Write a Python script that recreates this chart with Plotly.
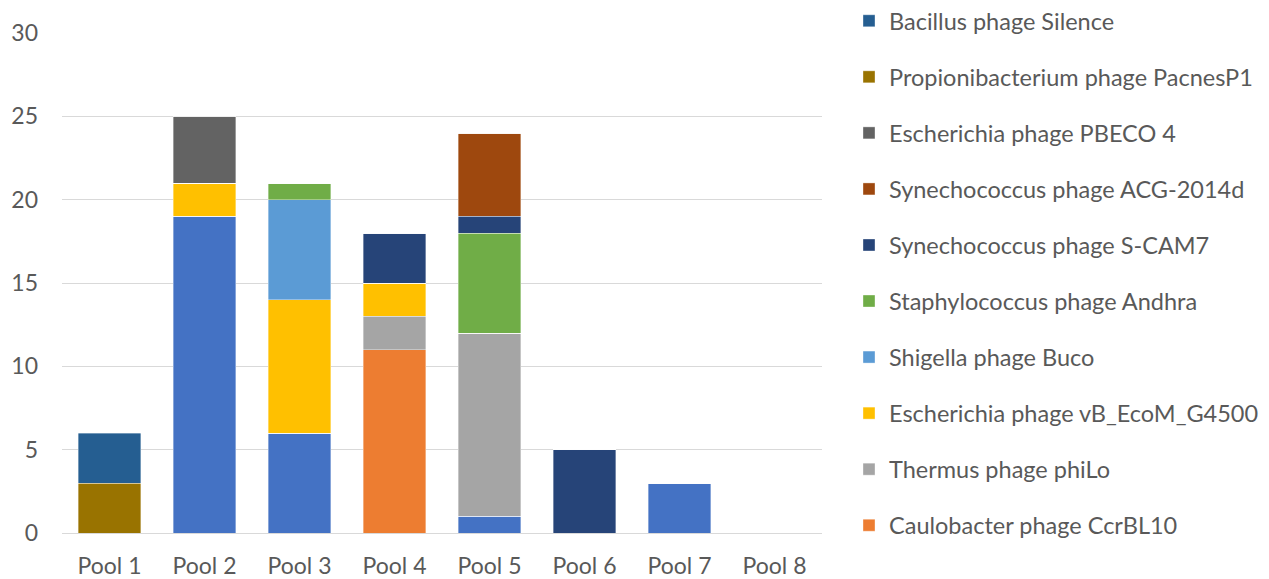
import plotly.graph_objects as go

pools = ["Pool 1", "Pool 2", "Pool 3", "Pool 4", "Pool 5", "Pool 6", "Pool 7", "Pool 8"]

# series in stacking order (bottom -> top)
other_blue = [0, 19, 6, 0, 1, 0, 3, 0]
caulobacter = [0, 0, 0, 11, 0, 0, 0, 0]
thermus = [0, 0, 0, 2, 11, 0, 0, 0]
escherichia_vb = [0, 2, 8, 2, 0, 0, 0, 0]
shigella = [0, 0, 6, 0, 0, 0, 0, 0]
staphylococcus = [0, 0, 1, 0, 6, 0, 0, 0]
syn_scam7 = [0, 0, 0, 3, 1, 5, 0, 0]
syn_acg = [0, 0, 0, 0, 5, 0, 0, 0]
escherichia_pbeco = [0, 4, 0, 0, 0, 0, 0, 0]
propioni = [3, 0, 0, 0, 0, 0, 0, 0]
bacillus = [3, 0, 0, 0, 0, 0, 0, 0]

series = [
    ("Other phage", other_blue, "#4472C4", False),
    ("Caulobacter phage CcrBL10", caulobacter, "#ED7D31", True),
    ("Thermus phage phiLo", thermus, "#A5A5A5", True),
    ("Escherichia phage vB_EcoM_G4500", escherichia_vb, "#FFC000", True),
    ("Shigella phage Buco", shigella, "#5B9BD5", True),
    ("Staphylococcus phage Andhra", staphylococcus, "#70AD47", True),
    ("Synechococcus phage S-CAM7", syn_scam7, "#264478", True),
    ("Synechococcus phage ACG-2014d", syn_acg, "#9E480E", True),
    ("Escherichia phage PBECO 4", escherichia_pbeco, "#636363", True),
    ("Propionibacterium phage PacnesP1", propioni, "#997300", True),
    ("Bacillus phage Silence", bacillus, "#255E91", True),
]

FONT = "Lato"
TXT = "#595959"
W, H = 1261, 571  # the page body adds an 8px offset

fig = go.Figure()
n = len(series)
for i, (name, vals, color, show) in enumerate(series):
    fig.add_trace(go.Bar(
        x=pools, y=vals, name=name,
        marker=dict(color=color, line=dict(color="rgba(255,255,255,0.6)", width=0.6)),
        showlegend=show, legendgroup=f"g{i}", legendrank=n - i,
    ))

fig.update_layout(
    barmode="stack",
    bargap=0.347,
    width=W, height=H,
    margin=dict(l=54, r=447, t=25, b=46, autoexpand=False),
    paper_bgcolor="white", plot_bgcolor="white",
    font=dict(family=FONT, size=23, color=TXT),
    xaxis=dict(showgrid=False, showline=False, ticks="", ticklabelstandoff=17,
               automargin=False, tickfont=dict(size=23, color=TXT)),
    yaxis=dict(range=[0, 30], dtick=5, showgrid=True, gridcolor="#D9D9D9", gridwidth=1.3,
               zeroline=True, zerolinecolor="#D9D9D9", zerolinewidth=1.3,
               automargin=False,
               ticks="", ticklabelstandoff=23, tickfont=dict(size=23, color=TXT)),
    legend=dict(
        x=1 + (849 - 822) / 760, xanchor="left", y=1.068, yanchor="top",
        traceorder="grouped", tracegroupgap=22.5, maxheight=700,
        font=dict(size=23.5, color=TXT, family=FONT),
        bgcolor="rgba(0,0,0,0)",
    ),
)

fig.write_html("out.html")
